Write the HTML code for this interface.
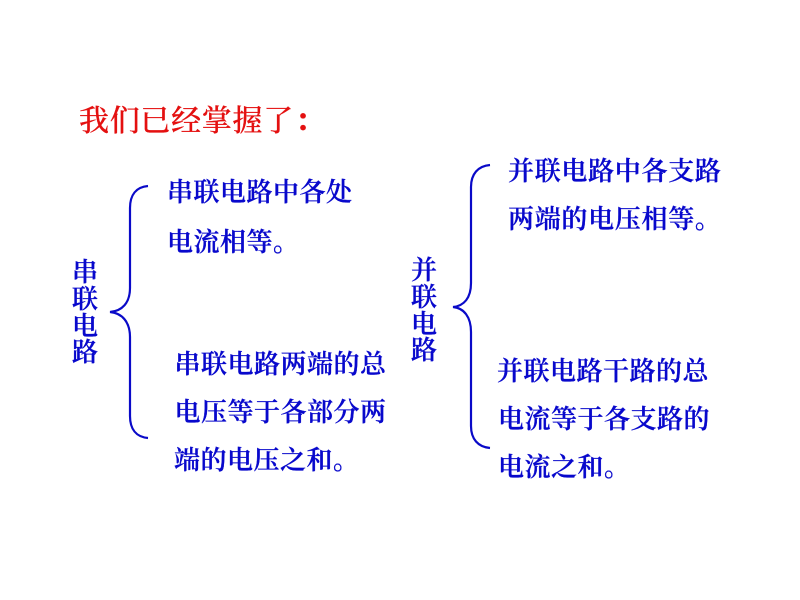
<!DOCTYPE html>
<html lang="zh">
<head>
<meta charset="utf-8">
<style>
html,body{margin:0;padding:0;background:#fff;width:800px;height:600px;overflow:hidden}
svg{display:block}
text{font-family:"Liberation Serif","Noto Serif CJK SC",serif;font-weight:600}
.b{fill:#0808cc;stroke:#0808cc;stroke-width:.3px;font-size:26px;letter-spacing:.7px}
.n{letter-spacing:.5px}
.t{fill:#e41010;stroke:#e41010;stroke-width:.25px;font-size:30px;letter-spacing:.7px;font-weight:500}
path{fill:none;stroke:#0a0ac8;stroke-width:2.2}
</style>
</head>
<body>
<svg width="800" height="600" viewBox="0 0 800 600" xmlns="http://www.w3.org/2000/svg">
<text class="t" x="79" y="131">我们已经掌握了</text>
<text class="t" x="295" y="131" style="font-weight:700">：</text>

<path d="M148 186 C136 187 130 195 130 208 L130 288 C130 303 122 311 110 312 C122 313 130 322 130 337 L130 416 C130 429 136 437 148 438"/>
<path d="M490 165 C478 166 471 174 471 187 L471 283 C471 298 464 306 453 307 C464 308 471 317 471 332 L471 426 C471 439 478 447 490 448"/>

<text class="b n" x="167" y="201">串联电路中各处</text>
<text class="b n" x="167" y="251">电流相等。</text>
<text class="b n" x="174.5" y="373">串联电路两端的总</text>
<text class="b n" x="174.5" y="421">电压等于各部分两</text>
<text class="b n" x="174" y="469">端的电压之和。</text>

<text class="b" x="72" y="281">串</text>
<text class="b" x="72" y="308">联</text>
<text class="b" x="72" y="335">电</text>
<text class="b" x="72" y="361">路</text>

<text class="b" x="411" y="279">并</text>
<text class="b" x="411" y="306">联</text>
<text class="b" x="411" y="333">电</text>
<text class="b" x="411" y="359">路</text>

<text class="b" x="508" y="180">并联电路中各支路</text>
<text class="b" x="508" y="228">两端的电压相等。</text>
<text class="b n" x="497" y="380">并联电路干路的总</text>
<text class="b n" x="498" y="428">电流等于各支路的</text>
<text class="b n" x="498" y="476">电流之和。</text>
</svg>
</body>
</html>
